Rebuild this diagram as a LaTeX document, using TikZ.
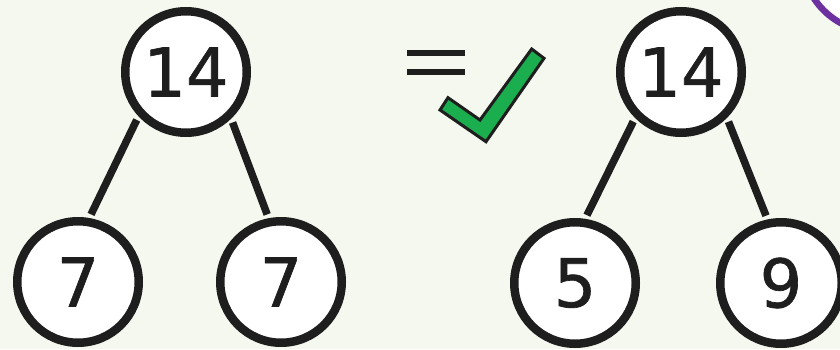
\documentclass[tikz,border=0pt]{standalone}
\usepackage{fontspec}
\usepackage{xcolor}
\usetikzlibrary{positioning}
\newfontfamily\digitfont[FakeBold=1]{DejaVu Sans}

\begin{document}
\begin{tikzpicture}[x=1pt, y=1pt,
  num/.style={circle, draw=ink, line width=8.5pt, fill=white, inner sep=0pt,
    minimum size=121.5pt, text=ink, font=\digitfont\fontsize{67}{67}\selectfont},
  bond/.style={draw=ink, line width=7.5pt, shorten <=4pt, shorten >=4pt}]
  \definecolor{ink}{RGB}{30,30,30}
  \definecolor{paper}{RGB}{244,248,238}
  \definecolor{tickgreen}{RGB}{26,174,79}
  \definecolor{badgepurple}{RGB}{108,48,160}
  \fill[paper] (0,0) rectangle (840,349);
  \useasboundingbox (0,0) rectangle (840,349);
  \clip (0,0) rectangle (840,349);
  % corner badge
  \draw[badgepurple, fill=white, line width=6.5pt] (876,391) circle (74);
  % first tree
  \node[num] (topA) at (186,277) {14};
  \node[num] (leftA) at (78,67) {7};
  \node[num] (rightA) at (281,67) {7};
  \draw[bond] (topA.223) -- (leftA.80);
  \draw[bond] (topA.314) -- (rightA.101);
  % equals and tick
  \coordinate (eqL) at (407,296);
  \coordinate (eqR) at (465,296);
  \draw[ink, line width=6pt] (eqL) -- (eqR);
  \draw[ink, line width=6pt] ([yshift=-19pt]eqL) -- ([yshift=-19pt]eqR);
  \draw[ink, fill=tickgreen, line width=3pt, line join=miter]
    (448,251.3) -- (480,229) -- (531.7,300) -- (544,290.7) -- (486,207.3) -- (440,239) -- cycle;
  % second tree
  \node[num] (topB) at (681,277) {14};
  \node[num] (leftB) at (575,66) {5};
  \node[num] (rightB) at (781,66) {9};
  \draw[bond] (topB.225) -- (leftB.81);
  \draw[bond] (topB.315) -- (rightB.102);
\end{tikzpicture}
\end{document}
